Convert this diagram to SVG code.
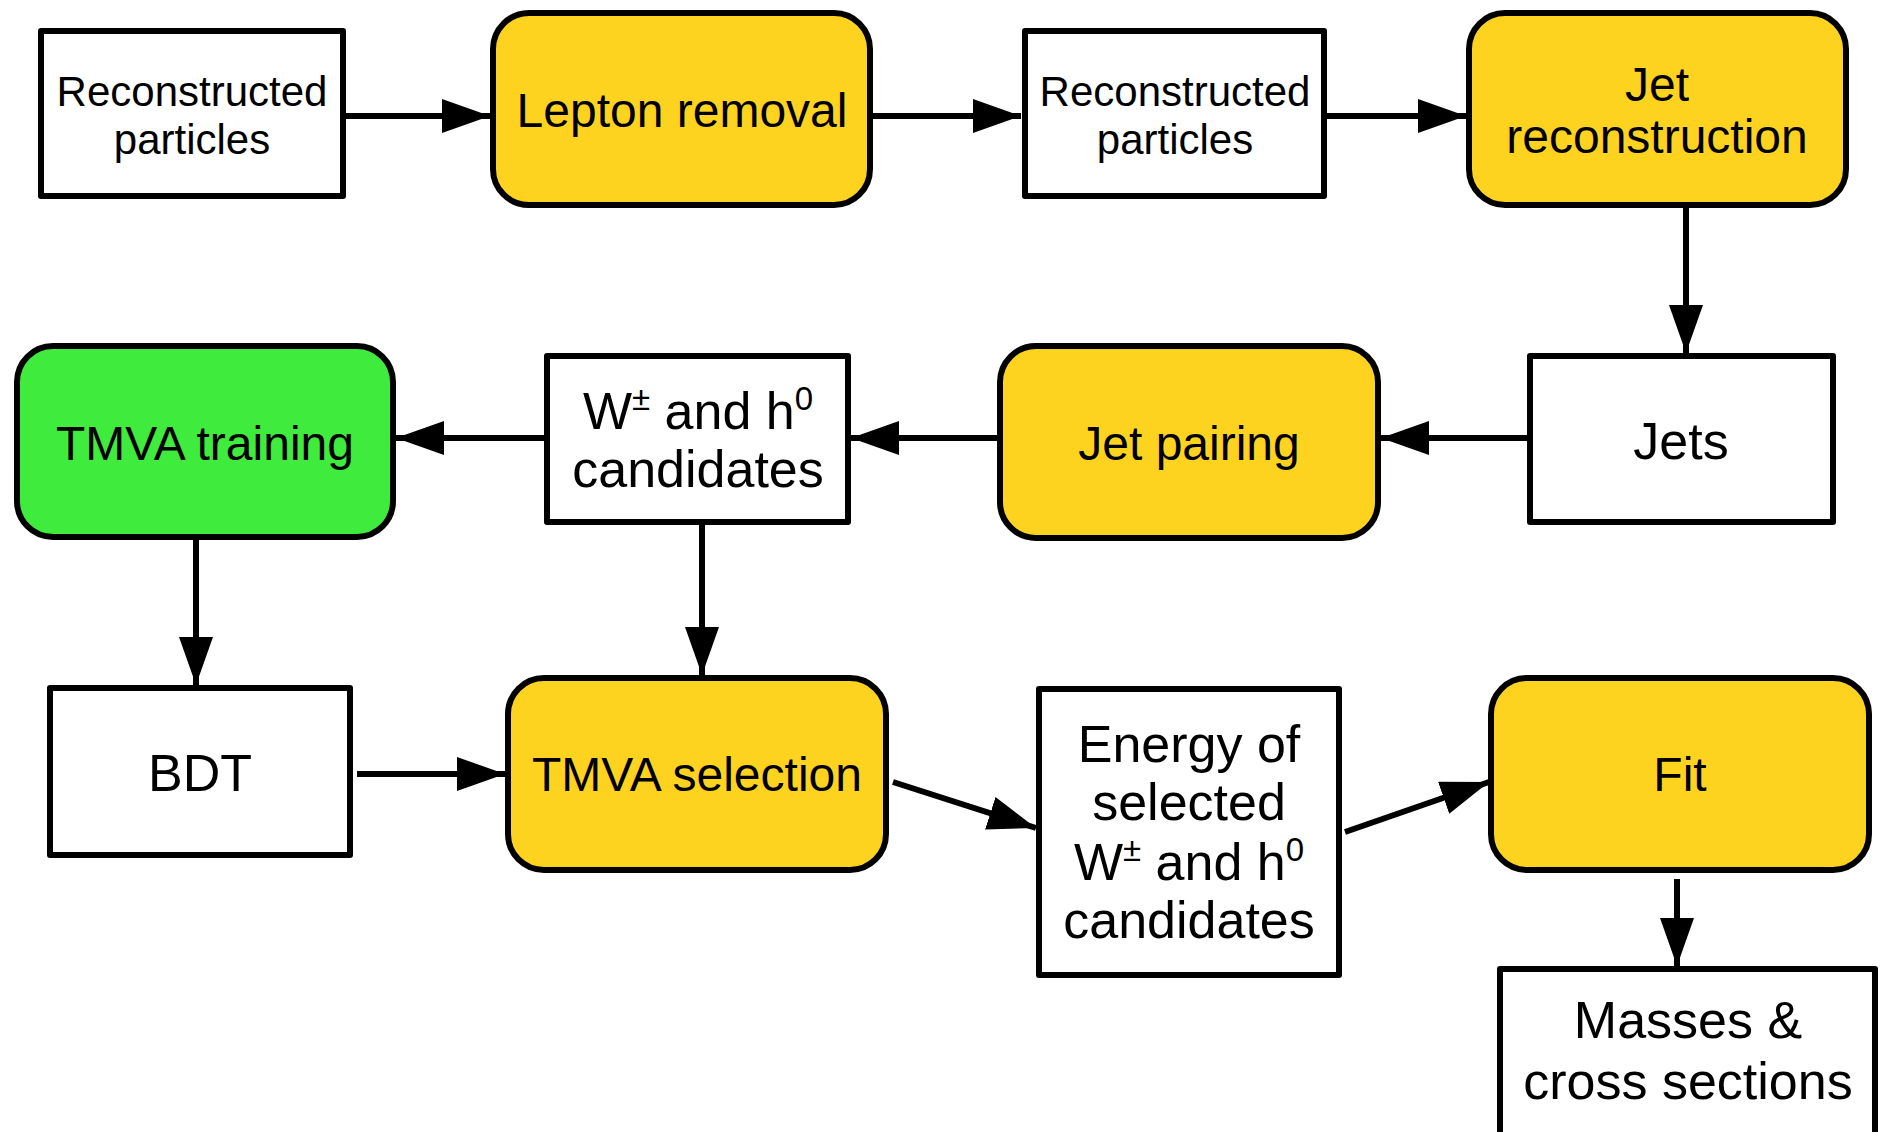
<svg xmlns="http://www.w3.org/2000/svg" width="1880" height="1132" viewBox="0 0 1880 1132">
<style>
  .box { fill: #ffffff; stroke: #000000; stroke-width: 6; stroke-linejoin: round; }
  .proc { fill: #FED320; stroke: #000000; stroke-width: 6; }
  .train { fill: #3FEB3D; stroke: #000000; stroke-width: 6; }
  .t { font-family: "Liberation Sans", Arial, sans-serif; fill: #000000; text-anchor: middle; }
  .s42 { font-size: 42px; }
  .s48 { font-size: 48px; }
  .s52 { font-size: 52px; }
  .conn { stroke: #000000; stroke-width: 6; fill: none; marker-end: url(#arrow); }
</style>
<defs>
  <marker id="arrow" markerUnits="userSpaceOnUse" markerWidth="48" markerHeight="34" refX="48" refY="17" orient="auto">
    <path d="M0,0 L48,17 L0,34 Z" fill="#000000"/>
  </marker>
</defs>
<rect x="0" y="0" width="1880" height="1132" fill="#ffffff"/>

<g id="connectors">
  <line class="conn" x1="346" y1="116" x2="490" y2="116"/>
  <line class="conn" x1="873" y1="116" x2="1021" y2="116"/>
  <line class="conn" x1="1327" y1="116" x2="1466" y2="116"/>
  <line class="conn" x1="1686" y1="208" x2="1686" y2="353"/>
  <line class="conn" x1="1527" y1="438" x2="1381" y2="438"/>
  <line class="conn" x1="997" y1="438" x2="851" y2="438"/>
  <line class="conn" x1="544" y1="438" x2="396" y2="438"/>
  <line class="conn" x1="196" y1="540" x2="196" y2="685"/>
  <line class="conn" x1="702" y1="525" x2="702" y2="675"/>
  <line class="conn" x1="357" y1="774" x2="505" y2="774"/>
  <line class="conn" x1="893" y1="782" x2="1036" y2="828"/>
  <line class="conn" x1="1345" y1="832" x2="1489" y2="782"/>
  <line class="conn" x1="1677" y1="879" x2="1677" y2="966"/>
</g>

<g id="reco1">
  <rect class="box" x="41" y="31" width="302" height="165"/>
  <text class="t s42" x="192" y="106">Reconstructed</text>
  <text class="t s42" x="192" y="154">particles</text>
</g>
<g id="lepton">
  <rect class="proc" x="493" y="13" width="377" height="192" rx="36" ry="36"/>
  <text class="t s48" x="682" y="127">Lepton removal</text>
</g>
<g id="reco2">
  <rect class="box" x="1025" y="31" width="299" height="165"/>
  <text class="t s42" x="1175" y="106">Reconstructed</text>
  <text class="t s42" x="1175" y="154">particles</text>
</g>
<g id="jetreco">
  <rect class="proc" x="1469" y="13" width="377" height="192" rx="36" ry="36"/>
  <text class="t s48" x="1657" y="101">Jet</text>
  <text class="t s48" x="1657" y="153">reconstruction</text>
</g>

<g id="tmvatrain">
  <rect class="train" x="17" y="346" width="376" height="191" rx="36" ry="36"/>
  <text class="t s48" x="205" y="460">TMVA training</text>
</g>
<g id="wcand">
  <rect class="box" x="547" y="356" width="301" height="166"/>
  <text class="t s52" x="698" y="429">W<tspan font-size="33" dy="-19">±</tspan><tspan dy="19"> and h</tspan><tspan font-size="33" dy="-19">0</tspan></text>
  <text class="t s52" x="698" y="487">candidates</text>
</g>
<g id="jetpair">
  <rect class="proc" x="1000" y="346" width="378" height="192" rx="36" ry="36"/>
  <text class="t s48" x="1189" y="460">Jet pairing</text>
</g>
<g id="jets">
  <rect class="box" x="1530" y="356" width="303" height="166"/>
  <text class="t s52" x="1681" y="459">Jets</text>
</g>

<g id="bdt">
  <rect class="box" x="50" y="688" width="300" height="167"/>
  <text class="t s52" x="200" y="791">BDT</text>
</g>
<g id="tmvasel">
  <rect class="proc" x="508" y="678" width="378" height="192" rx="36" ry="36"/>
  <text class="t s48" x="697" y="791">TMVA selection</text>
</g>
<g id="energy">
  <rect class="box" x="1039" y="689" width="300" height="286"/>
  <text class="t s52" x="1189" y="762">Energy of</text>
  <text class="t s52" x="1189" y="820">selected</text>
  <text class="t s52" x="1189" y="880">W<tspan font-size="33" dy="-19">±</tspan><tspan dy="19"> and h</tspan><tspan font-size="33" dy="-19">0</tspan></text>
  <text class="t s52" x="1189" y="938">candidates</text>
</g>
<g id="fit">
  <rect class="proc" x="1491" y="678" width="378" height="192" rx="36" ry="36"/>
  <text class="t s48" x="1680" y="791">Fit</text>
</g>
<g id="masses">
  <rect class="box" x="1500" y="969" width="375" height="200"/>
  <text class="t s52" x="1688" y="1038">Masses &amp;</text>
  <text class="t s52" x="1688" y="1099">cross sections</text>
</g>
</svg>
